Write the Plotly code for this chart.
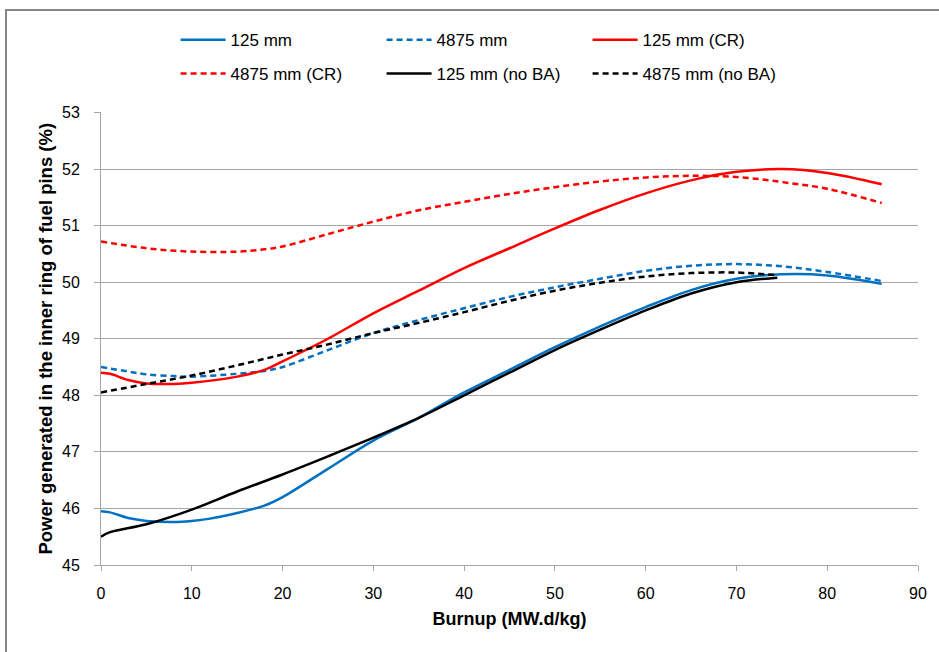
import plotly.graph_objects as go

# ---- data ----
x_blue_solid = [0, 1, 3, 5, 8, 10, 12, 15, 18, 20, 25, 30, 35, 40, 45, 50, 55, 60, 65, 70, 75, 80, 86]
y_blue_solid = [45.95, 45.93, 45.83, 45.78, 45.76, 45.78, 45.82, 45.92, 46.05, 46.2, 46.7, 47.2, 47.6, 48.05, 48.45, 48.85, 49.22, 49.56, 49.86, 50.06, 50.14, 50.12, 49.97]

x_blue_dash = [0, 3, 5, 8, 10, 15, 18, 20, 25, 30, 35, 40, 45, 50, 55, 60, 65, 70, 75, 80, 86]
y_blue_dash = [48.5, 48.42, 48.37, 48.34, 48.33, 48.38, 48.43, 48.5, 48.8, 49.1, 49.33, 49.54, 49.74, 49.91, 50.06, 50.2, 50.29, 50.32, 50.28, 50.18, 50.02]

x_red_solid = [0, 1, 3, 5, 8, 10, 15, 18, 20, 25, 30, 35, 40, 45, 50, 55, 60, 65, 70, 75, 80, 86]
y_red_solid = [48.4, 48.38, 48.27, 48.21, 48.2, 48.22, 48.33, 48.45, 48.6, 49.0, 49.45, 49.85, 50.25, 50.6, 50.95, 51.28, 51.57, 51.8, 51.95, 52.0, 51.93, 51.73]

x_red_dash = [0, 5, 10, 15, 18, 20, 25, 30, 35, 40, 45, 50, 55, 60, 65, 70, 75, 80, 86]
y_red_dash = [50.72, 50.6, 50.54, 50.54, 50.58, 50.63, 50.85, 51.07, 51.27, 51.42, 51.56, 51.68, 51.78, 51.85, 51.88, 51.86, 51.77, 51.65, 51.4]

x_black_solid = [0, 1, 5, 10, 15, 20, 25, 30, 35, 40, 45, 50, 55, 60, 65, 70, 74.5]
y_black_solid = [45.5, 45.58, 45.72, 45.98, 46.3, 46.6, 46.92, 47.25, 47.6, 48.0, 48.4, 48.8, 49.16, 49.5, 49.8, 50.0, 50.08]

x_black_dash = [0, 5, 10, 15, 20, 25, 30, 35, 40, 45, 50, 55, 60, 65, 70, 74.5]
y_black_dash = [48.05, 48.2, 48.35, 48.53, 48.72, 48.9, 49.1, 49.28, 49.47, 49.67, 49.85, 49.99, 50.1, 50.16, 50.17, 50.12]

series_names = ["125 mm", "4875 mm", "125 mm (CR)", "4875 mm (CR)", "125 mm (no BA)", "4875 mm (no BA)"]
x_tick_vals = [0, 10, 20, 30, 40, 50, 60, 70, 80, 90]
y_tick_vals = [45, 46, 47, 48, 49, 50, 51, 52, 53]

BLUE = "#0070c0"
RED = "#ff0000"
BLACK = "#000000"
DASH = "6px,4px"

series = [
    (x_blue_solid, y_blue_solid, BLUE, "solid", "legend"),
    (x_blue_dash, y_blue_dash, BLUE, DASH, "legend"),
    (x_red_solid, y_red_solid, RED, "solid", "legend"),
    (x_red_dash, y_red_dash, RED, DASH, "legend2"),
    (x_black_solid, y_black_solid, BLACK, "solid", "legend2"),
    (x_black_dash, y_black_dash, BLACK, DASH, "legend2"),
]

FONT = "Liberation Sans, Arial, sans-serif"

fig = go.Figure()
for (xs, ys, col, dash, lg), name in zip(series, series_names):
    fig.add_trace(go.Scatter(x=xs, y=ys, mode="lines", name=name, legend=lg,
                             line=dict(color=col, width=2.5, dash=dash, shape="spline", smoothing=1.0)))

legend_common = dict(orientation="h", xref="container", yref="container",
                     x=0.187, xanchor="left", yanchor="top",
                     entrywidth=146, entrywidthmode="pixels",
                     font=dict(family=FONT, size=17), itemwidth=45,
                     bgcolor="rgba(0,0,0,0)")

fig.update_layout(
    width=939, height=652,
    margin=dict(l=101, r=21, t=110, b=87),
    paper_bgcolor="white", plot_bgcolor="white",
    font=dict(family=FONT, size=16, color="#000000"),
    showlegend=True,
    legend=dict(legend_common, y=0.966),
    legend2=dict(legend_common, y=0.914),
    xaxis=dict(range=[0, 90], tickvals=x_tick_vals, showgrid=False, zeroline=False,
               showline=True, linecolor="#a6a6a6", linewidth=1,
               ticks="outside", ticklen=5, tickcolor="#a6a6a6",
               ticklabelstandoff=9,
               tickfont=dict(family=FONT, size=16),
               title=dict(text="<b>Burnup (MW.d/kg)</b>", font=dict(family=FONT, size=18), standoff=11)),
    yaxis=dict(range=[45, 53], tickvals=y_tick_vals, showgrid=True, gridcolor="#a6a6a6", gridwidth=1,
               zeroline=False, showline=True, linecolor="#a6a6a6", linewidth=1,
               ticks="outside", ticklen=6, tickcolor="#a6a6a6",
               ticklabelstandoff=11,
               tickfont=dict(family=FONT, size=16),
               title=dict(text="<b>Power generated in the inner ring of fuel pins (%)</b>", font=dict(family=FONT, size=18.5), standoff=4)),
    shapes=[dict(type="rect", xref="paper", yref="paper",
                 x0=(6 - 101) / 817, x1=(960 - 101) / 817,
                 y0=(565 - 680) / 455, y1=(565 - 7) / 455,
                 line=dict(color="#868686", width=2), fillcolor="rgba(0,0,0,0)", layer="below")],
)

fig.write_html("out.html")
